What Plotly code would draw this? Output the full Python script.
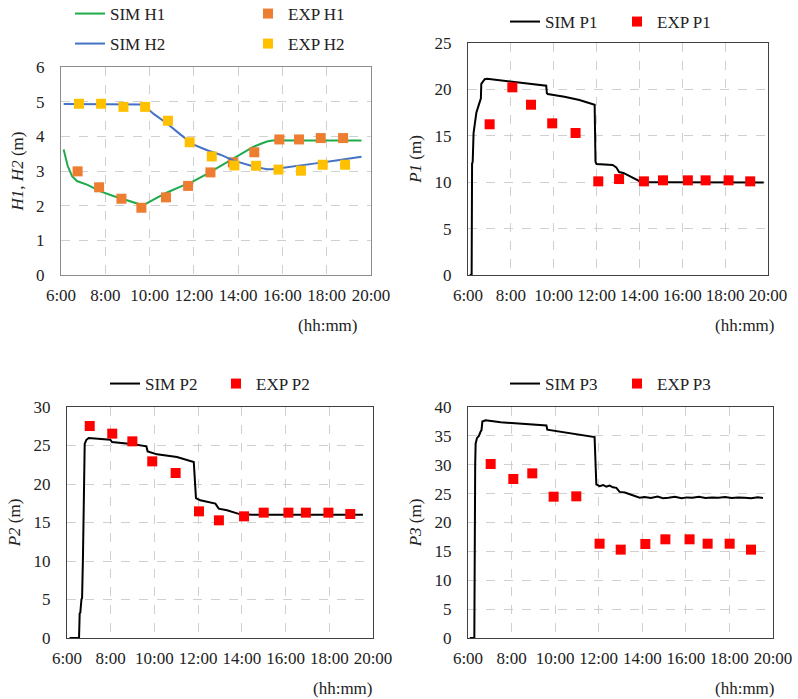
import plotly.graph_objects as go

# ---------------- data (time in decimal hours) ----------------
# Panel 1: water levels H1, H2
sim_h_t = [6.12, 6.30, 6.50, 6.72, 7.20, 7.78, 8.40, 9.00, 9.50, 9.70, 10.20, 10.79, 11.40, 11.99, 12.60, 13.20, 13.80, 14.30, 14.70, 15.00, 15.30, 15.55, 15.76, 16.50, 17.50, 18.50, 19.57]
sim_h1 = [3.62, 3.15, 2.85, 2.71, 2.60, 2.41, 2.27, 2.15, 2.05, 2.01, 2.18, 2.38, 2.55, 2.71, 2.92, 3.14, 3.37, 3.55, 3.70, 3.78, 3.85, 3.88, 3.89, 3.88, 3.88, 3.88, 3.88]
sim_h2 = [4.93, 4.93, 4.93, 4.93, 4.93, 4.93, 4.93, 4.93, 4.93, 4.92, 4.64, 4.37, 4.05, 3.76, 3.60, 3.47, 3.30, 3.20, 3.13, 3.09, 3.05, 3.05, 3.07, 3.13, 3.22, 3.31, 3.41]

exp_h1_t = [6.75, 7.72, 8.73, 9.63, 10.74, 11.74, 12.75, 13.76, 14.73, 15.86, 16.75, 17.73, 18.74]
exp_h1 = [2.99, 2.53, 2.20, 1.94, 2.24, 2.57, 2.96, 3.25, 3.54, 3.91, 3.91, 3.95, 3.95]
exp_h2_t = [6.81, 7.81, 8.82, 9.80, 10.83, 11.81, 12.81, 13.83, 14.81, 15.82, 16.84, 17.82, 18.83]
exp_h2 = [4.94, 4.94, 4.85, 4.85, 4.45, 3.83, 3.42, 3.16, 3.15, 3.04, 3.01, 3.18, 3.18]

# Panel 2: pressure head P1
sim_p1_t = [6.08, 6.17, 6.19, 6.22, 6.26, 6.33, 6.39, 6.54, 6.60, 6.62, 6.70, 6.78, 6.89,
            7.50, 8.50, 9.20, 9.65, 9.68, 9.72, 10.50, 11.20, 11.91, 11.95, 12.00, 12.30,
            12.75, 12.92, 13.05, 13.25, 13.50, 13.75, 14.00, 14.10, 15.00, 16.00, 17.00,
            18.00, 19.00, 19.80]
sim_p1 = [0.0, 0.0, 12.0, 12.2, 15.3, 16.8, 17.5, 18.6, 19.0, 20.6, 20.9, 21.1, 21.15,
          21.0, 20.75, 20.55, 20.4, 19.6, 19.5, 19.2, 18.85, 18.35, 12.2, 11.95, 11.93,
          11.85, 11.6, 11.1, 11.0, 10.7, 10.35, 10.05, 10.0, 10.0, 10.0, 10.0,
          9.99, 9.98, 9.98]
exp_p1_t = [7.01, 8.07, 8.94, 9.93, 11.02, 12.08, 13.05, 14.21, 15.10, 16.26, 17.09, 18.16, 19.17]
exp_p1 = [16.24, 20.22, 18.35, 16.34, 15.30, 10.09, 10.34, 10.09, 10.20, 10.20, 10.20, 10.20, 10.09]

# Panel 3: pressure head P2
sim_p2_t = [6.12, 6.55, 6.58, 6.61, 6.66, 6.69, 6.73, 6.76, 6.79, 6.81, 6.88, 6.99,
            7.98, 8.06, 9.05, 9.63, 9.69, 10.12, 11.03, 11.80, 11.90, 12.10, 12.79,
            12.94, 13.32, 13.93, 14.50, 15.50, 16.50, 17.50, 18.50, 19.54]
sim_p2 = [0.0, 0.0, 3.2, 3.3, 5.0, 5.2, 10.5, 18.0, 24.4, 25.2, 25.7, 25.97,
          25.76, 25.45, 25.15, 24.9, 24.24, 23.85, 23.5, 22.86, 18.18, 17.88, 17.45,
          16.8, 16.58, 16.06, 16.02, 16.02, 16.01, 16.01, 16.0, 16.0]
exp_p2_t = [7.04, 8.07, 8.99, 9.90, 10.97, 12.04, 12.95, 14.10, 15.00, 16.13, 16.93, 17.96, 18.96]
exp_p2 = [27.53, 26.54, 25.54, 22.94, 21.43, 16.45, 15.28, 15.80, 16.28, 16.28, 16.28, 16.28, 16.10]

# Panel 4: pressure head P3
sim_p3_t = [6.08, 6.29, 6.33, 6.35, 6.41, 6.50, 6.57, 6.62, 6.66, 6.81, 7.50, 8.50,
            9.60, 9.64, 10.50, 11.20, 11.81, 11.89, 12.04, 12.20, 12.35, 12.50, 12.65,
            12.81, 12.96, 13.20, 13.40, 13.57, 13.75, 13.88, 14.10, 14.40, 14.70,
            14.95, 15.20, 15.50, 15.80, 16.05, 16.30, 16.60, 16.90, 17.20, 17.50,
            17.80, 18.10, 18.40, 18.70, 19.00, 19.30, 19.54]
sim_p3 = [0.0, 0.0, 30.0, 33.65, 34.6, 35.0, 35.67, 36.0, 37.5, 37.7, 37.35, 37.1,
          36.8, 36.07, 35.6, 35.2, 34.8, 26.6, 26.3, 26.5, 26.2, 26.4, 26.1,
          26.0, 25.3, 25.2, 24.95, 24.7, 24.55, 24.3, 24.4, 24.25, 24.5,
          24.2, 24.3, 24.45, 24.2, 24.35, 24.3, 24.45, 24.25, 24.35, 24.3,
          24.4, 24.25, 24.35, 24.3, 24.2, 24.35, 24.25]
exp_p3_t = [7.04, 8.08, 8.95, 9.93, 10.97, 12.04, 13.01, 14.14, 15.06, 16.17, 17.00, 18.01, 18.99]
exp_p3 = [30.13, 27.53, 28.51, 24.47, 24.53, 16.33, 15.30, 16.28, 17.09, 17.09, 16.33, 16.33, 15.30]

tick_hours = [6, 8, 10, 12, 14, 16, 18, 20]
tick_labels = ["6:00", "8:00", "10:00", "12:00", "14:00", "16:00", "18:00", "20:00"]

# ---------------- styling ----------------
FONT = "Liberation Serif"
FS = 17
TXT = "#222222"
GREEN = "#1FAA4B"
BLUE = "#4472C4"
ORANGE = "#ED7D31"
YELLOW = "#FFC000"
RED = "#FF0000"
BLACK = "#000000"
W, H = 798, 699


def px_x(a, b):
    return [a / W, b / W]


def px_y(top, bottom):
    return [1 - bottom / H, 1 - top / H]


fig = go.Figure()

# panel boxes in pixels (left, right, top, bottom)
panels = [
    dict(x=px_x(61, 371), y=px_y(67, 275), yr=[0, 6], dt=1, title="<i>H1</i>, <i>H2</i> (m)", line="#8C8C8C"),
    dict(x=px_x(468, 768), y=px_y(43, 275), yr=[0, 25], dt=5, title="<i>P1</i> (m)", line="#404040"),
    dict(x=px_x(67, 373), y=px_y(407, 638), yr=[0, 30], dt=5, title="<i>P2</i> (m)", line="#404040"),
    dict(x=px_x(468, 773), y=px_y(407, 638), yr=[0, 40], dt=5, title="<i>P3</i> (m)", line="#404040"),
]

for i, p in enumerate(panels, start=1):
    sx = "" if i == 1 else str(i)
    fig.update_layout({
        f"xaxis{sx}": dict(
            domain=p["x"], anchor=f"y{sx}", range=[6, 20], tickvals=tick_hours, ticktext=tick_labels,
            showgrid=True, gridcolor="#D0D0D0", griddash="dash", gridwidth=1,
            showline=True, linecolor=p["line"], linewidth=1, mirror=True, zeroline=False,
            ticks="", ticklabelstandoff=5, tickangle=0, automargin=False,
            tickfont=dict(family=FONT, size=FS, color=TXT), fixedrange=True,
        ),
        f"yaxis{sx}": dict(
            domain=p["y"], anchor=f"x{sx}", range=p["yr"], dtick=p["dt"], tick0=0,
            showgrid=True, gridcolor="#D0D0D0", griddash="dash", gridwidth=1,
            showline=True, linecolor=p["line"], linewidth=1, mirror=True, zeroline=False,
            ticks="", ticklabelstandoff=12, automargin=False,
            tickfont=dict(family=FONT, size=FS, color=TXT),
            title=dict(text=p["title"], font=dict(family=FONT, size=FS, color=TXT), standoff=8),
            fixedrange=True,
        ),
    })


def legend_cfg(x_px, y_px):
    return dict(orientation="h", x=x_px / W, xanchor="left", y=1 - y_px / H, yanchor="middle",
                bgcolor="rgba(0,0,0,0)", font=dict(family=FONT, size=FS, color=TXT),
                itemwidth=30, tracegroupgap=0)


# each legend entry gets its own legend box so it can sit exactly where it belongs
legend_boxes = {}


def line(t, v, name, color, ax, lpos, width=2):
    key = "legend" if not legend_boxes else f"legend{len(legend_boxes) + 1}"
    legend_boxes[key] = legend_cfg(*lpos)
    fig.add_trace(go.Scatter(x=t, y=v, mode="lines", name=name, line=dict(color=color, width=width),
                             xaxis=f"x{ax}", yaxis=f"y{ax}", legend=key))


def pts(t, v, name, color, ax, lpos):
    key = "legend" if not legend_boxes else f"legend{len(legend_boxes) + 1}"
    legend_boxes[key] = legend_cfg(*lpos)
    fig.add_trace(go.Scatter(x=t, y=v, mode="markers", name=name,
                             marker=dict(color=color, symbol="square", size=10, line=dict(width=0)),
                             xaxis=f"x{ax}", yaxis=f"y{ax}", legend=key))


line(sim_h_t, sim_h1, "SIM H1", GREEN, "", (70, 14))
pts(exp_h1_t, exp_h1, "EXP H1", ORANGE, "", (248, 14))
line(sim_h_t, sim_h2, "SIM H2", BLUE, "", (70, 44))
pts(exp_h2_t, exp_h2, "EXP H2", YELLOW, "", (248, 44))
line(sim_p1_t, sim_p1, "SIM P1", BLACK, "2", (505, 22))
pts(exp_p1_t, exp_p1, "EXP P1", RED, "2", (617, 22))
line(sim_p2_t, sim_p2, "SIM P2", BLACK, "3", (105, 384))
pts(exp_p2_t, exp_p2, "EXP P2", RED, "3", (216, 384))
line(sim_p3_t, sim_p3, "SIM P3", BLACK, "4", (505, 384))
pts(exp_p3_t, exp_p3, "EXP P3", RED, "4", (617, 384))

fig.update_layout(
    width=W, height=H, margin=dict(l=0, r=0, t=0, b=0, autoexpand=False),
    paper_bgcolor="white", plot_bgcolor="white", showlegend=True,
    font=dict(family=FONT, size=FS, color=TXT),
    **legend_boxes,
)

for xp, yp in [(328, 325), (745, 325), (343, 688), (745, 688)]:
    fig.add_annotation(text="(hh:mm)", x=xp / W, y=1 - yp / H, xref="paper", yref="paper",
                       showarrow=False, xanchor="center", yanchor="middle",
                       font=dict(family=FONT, size=FS, color=TXT))

fig.write_html("out.html")
